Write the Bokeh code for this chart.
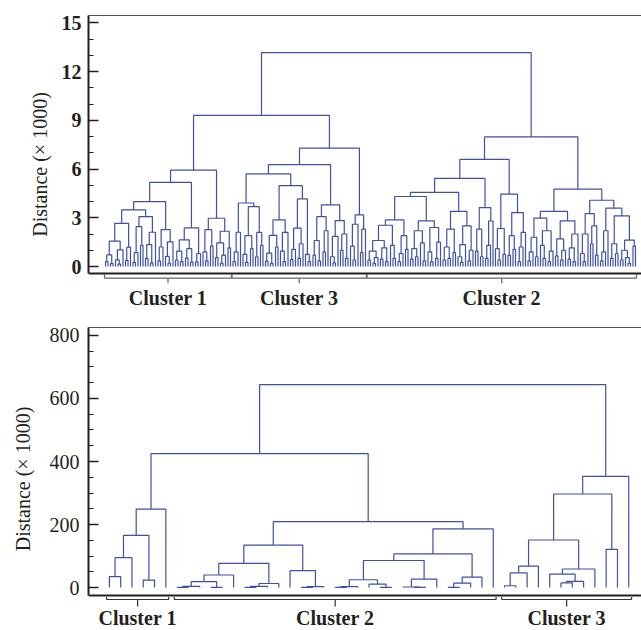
from bokeh.plotting import figure
from bokeh.models import Range1d, LinearAxis, FixedTicker, ColumnDataSource, Span
from bokeh.layouts import column
from bokeh.embed import file_html
from bokeh.resources import INLINE
from bokeh.core.properties import value

o = 0  # a leaf; internal node = (merge distance, left, right)

# ---------------- top dendrogram: distance (x 1000) ----------------
A111 = (2.66, (1.56, (0.72, (0.30, o, o), (0.18, o, o)), (1.02, (0.41, o, (0.15, o, o)), o)),
        (1.19, (0.38, o, o), o))
A112 = (3.07, (2.46, (0.85, (0.25, o, o), o), (1.30, o, o)),
        (2.11, (1.35, (0.50, o, o), (0.22, o, o)), o))
A12 = (2.27, (1.20, (0.35, o, o), o), (1.52, (0.62, o, (0.20, o, o)), o))
A2 = (2.38, (1.64, (0.95, (0.40, o, o), (0.30, o, o)), (1.10, (0.52, o, o), (0.27, o, o))),
      (0.80, (0.28, o, o), o))
B1 = (2.27, (0.90, o, (0.35, o, o)), (1.25, o, o))
B2 = (2.17, (1.45, (0.55, o, o), (0.70, (0.20, o, o), o)), (1.15, o, o))
top_cluster1 = (5.93, (5.18, (4.00, (3.48, A111, A112), A12), A2), (2.97, B1, B2))

D111 = (2.11, (0.90, (0.30, o, o), o), o)
D112 = (3.69, (1.90, (0.75, o, (0.25, o, o)), (1.10, o, o)), (2.10, (0.60, o, o), (1.30, o, o)))
D121 = (2.87, (1.92, (0.82, (0.33, o, o), (0.20, o, o)), (1.20, o, o)),
        (2.10, (0.95, o, (0.30, o, o)), o))
D122 = (4.16, (2.36, (1.05, (0.42, o, o), o), (1.40, (0.50, o, o), o)), (0.75, o, (0.30, o, o)))
D21 = (3.07, (1.60, (0.70, o, o), (0.35, o, o)), (2.20, (0.90, o, o), o))
D22 = (2.83, (1.85, (0.60, o, (0.22, o, o)), o), (2.00, (1.00, o, o), (0.50, o, o)))
E3 = (3.18, (2.60, (1.25, o, (0.40, o, o)), o), (2.30, (0.85, o, o), o))
top_cluster3 = (7.29, (6.27, (5.70, (3.91, D111, D112), (4.98, D121, D122)), (3.79, D21, D22)), E3)

N394 = (2.87, (2.54, (1.60, (0.95, (0.40, o, o), (0.55, (0.20, o, o), o)),
                     (1.15, (0.45, o, o), (0.30, o, o))), (1.30, o, (0.50, o, o))),
        (1.90, (0.80, (0.30, o, o), o), (1.05, o, o)))
N426 = (2.81, (2.20, (1.10, (0.45, o, o), (0.60, o, o)), (1.45, o, (0.35, o, o))),
        (2.40, (0.90, o, (0.28, o, o)), (1.50, (0.50, o, o), o)))
F112 = (3.39, (2.30, (1.20, (0.40, o, o), (0.50, o, o)), (0.85, o, o)),
        (2.50, (1.35, (0.60, o, (0.25, o, o)), o), (1.00, (0.35, o, o), o)))
F12 = (3.63, (2.30, (0.95, o, o), (0.60, o, o)), (2.80, (1.30, (0.50, o, o), o), o))
F2 = (4.45, (2.34, (1.10, o, (0.40, o, o)), (0.75, o, o)),
      (3.32, (1.90, (0.70, o, o), (1.05, o, o)), (2.10, (1.20, (0.30, o, o), o), o)))
G1 = (3.39, (2.98, (1.80, (0.90, (0.35, o, o), o), (0.60, o, o)),
                   (2.20, (1.30, o, (0.50, o, o)), (0.95, (0.30, o, o), o))),
      (2.81, (1.70, (0.65, o, o), (1.00, (0.40, o, o), o)),
             (2.00, (1.15, (0.45, o, o), (0.30, o, o)), o)))
G2 = (4.08, (3.26, (2.00, (0.80, o, (0.30, o, o)), o), (2.50, (1.40, o, o), (0.70, o, o))),
      (3.59, (2.20, (0.90, (0.35, o, o), o), o),
             (3.12, (1.40, (0.50, o, o), (0.80, o, o)),
                    (1.62, (1.00, (0.40, o, o), (0.55, o, (0.20, o, o))), (1.25, o, o)))))
top_cluster2 = (7.98, (6.59, (5.42, (4.56, (4.31, N394, N426), F112), F12), F2), (4.76, G1, G2))

top_root = (13.17, (9.30, top_cluster1, top_cluster3), top_cluster2)
top_cluster_names = ["Cluster 1", "Cluster 3", "Cluster 2"]
top_cluster_trees = [top_cluster1, top_cluster3, top_cluster2]
top_ticks = [0, 3, 6, 9, 12, 15]

# ---------------- bottom dendrogram: distance (x 1000) ----------------
bot_cluster1 = (249, (166, (95, (35, o, o), o), (24, o, o)), o)
bot_cluster2 = (209,
                (135, (77, (40, (19, (4, (1, o, o), o), (1, o, o)), o), (13, (4, (1, o, o), o), o)),
                      (54, o, (3, (1, o, o), o))),
                (186, (107, (86, (25, (3, (1, o, o), o), (11, o, (1, o, o))), (27, (2, o, (1, o, o)), o)),
                            (33, (14, (1, o, o), o), o)), o))
bot_cluster3 = (353, (297, (151, (68, (47, (6, o, o), o), o), (59, (43, o, (20, (15, o, o), o)), o)),
                      (121, o, o)), o)
bot_root = (644, (425, bot_cluster1, bot_cluster2), bot_cluster3)
bot_cluster_names = ["Cluster 1", "Cluster 2", "Cluster 3"]
bot_cluster_trees = [bot_cluster1, bot_cluster2, bot_cluster3]
bot_ticks = [0, 200, 400, 600, 800]

# ---------------- helpers ----------------
LINE = "#3f51a5"
INK = "#231f20"
FONT = "Liberation Serif"
W = 641


def count_leaves(n):
    return 1 if not isinstance(n, tuple) else count_leaves(n[1]) + count_leaves(n[2])


def dendro_paths(tree):
    xs, ys = [], []
    counter = [0]

    def walk(n):
        if not isinstance(n, tuple):
            x = counter[0]
            counter[0] += 1
            return x, 0.0
        h, l, r = n
        xl, hl = walk(l)
        xr, hr = walk(r)
        xs.append([xl, xl, xr, xr])
        ys.append([hl, h, h, hr])
        return (xl + xr) / 2.0, h

    walk(tree)
    return xs, ys


def cluster_spans(trees):
    spans, start = [], 0
    for t in trees:
        n = count_leaves(t)
        spans.append((start, start + n - 1))
        start += n
    return spans


def dendro_chart(tree, names, trees, x_lo, x_hi, y_lo, y_hi, axis_px, below_px, top_px, left_px,
                 ticks, minor, bold_ticks, label_standoff, axis_standoff,
                 pad, br_line, br_end, br_tick, br_text, br_color):
    upp = (y_hi - y_lo) / axis_px  # data units per pixel
    height = top_px + axis_px + below_px
    p = figure(width=W, height=height, x_range=Range1d(x_lo, x_hi),
               y_range=Range1d(y_lo - below_px * upp, y_hi), output_backend="svg",
               toolbar_location=None, x_axis_location=None, y_axis_location=None,
               min_border_left=left_px, min_border_right=0, min_border_top=top_px, min_border_bottom=0)
    p.grid.visible = False
    p.outline_line_color = None
    p.background_fill_color = "white"
    p.border_fill_color = "white"

    yax = LinearAxis(ticker=FixedTicker(ticks=ticks, minor_ticks=minor), axis_label="Distance (× 1000)",
                     bounds=(y_lo, y_hi))
    yax.major_tick_in = 10
    yax.major_tick_out = 0
    yax.minor_tick_in = 5
    yax.minor_tick_out = 0
    yax.major_tick_line_width = 1.5
    yax.major_tick_line_color = INK
    yax.minor_tick_line_color = INK
    yax.axis_line_width = 2
    yax.axis_line_color = INK
    yax.major_label_text_font = FONT
    yax.major_label_text_font_size = "20px"
    yax.major_label_text_font_style = "bold" if bold_ticks else "normal"
    yax.major_label_text_color = INK
    yax.major_label_standoff = label_standoff
    yax.axis_label_text_font = FONT
    yax.axis_label_text_font_size = "20px"
    yax.axis_label_text_font_style = "normal"
    yax.axis_label_text_color = INK
    yax.axis_label_standoff = axis_standoff
    p.add_layout(yax, "left")

    top_line = LinearAxis(ticker=FixedTicker(ticks=[]), axis_line_color="#555555", axis_line_width=1.2,
                          major_tick_in=0, major_tick_out=0, minor_tick_in=0, minor_tick_out=0,
                          major_label_standoff=0)
    p.add_layout(top_line, "above")
    p.add_layout(Span(location=y_lo, dimension="width", line_color=INK, line_width=2))

    xs, ys = dendro_paths(tree)
    p.multi_line(xs="xs", ys="ys", source=ColumnDataSource(dict(xs=xs, ys=ys)),
                 line_color=LINE, line_width=1.2)

    # cluster brackets below the axis (offsets in pixels below the axis line)
    yl = y_lo - br_line * upp
    ye = y_lo - br_end * upp
    yt = y_lo - br_tick * upp
    ytx = y_lo - br_text * upp
    bx, by, cx, cy, tx, ty = [], [], [], [], [], []
    for (a, b) in cluster_spans(trees):
        x0, x1 = a - pad, b + pad
        xc = (x0 + x1) / 2.0
        bx.append([x0, x0, x1, x1])
        by.append([ye, yl, yl, ye])
        cx.append([xc, xc])
        cy.append([yl, yt])
        tx.append(xc)
        ty.append(ytx)
    p.multi_line(xs=bx, ys=by, line_color=br_color, line_width=1.2)
    p.multi_line(xs=cx, ys=cy, line_color=br_color, line_width=1.2)
    p.text(x=tx, y=ty, text=names, text_font=value(FONT), text_font_style="bold",
           text_font_size="20px", text_align="center", text_baseline="middle", text_color=INK)
    return p


top_minor = [v for v in range(0, 16) if v % 3]
bot_minor = [v for v in range(0, 801, 50) if v % 200]

p1 = dendro_chart(top_root, top_cluster_names, top_cluster_trees,
                  -6.8, 214.4, -0.43, 15.45, 258, 40, 15, 88,
                  top_ticks, top_minor, True, 7, 8,
                  0.4, 4.7, 1.0, 9.7, 24.5, "#666666")
p2 = dendro_chart(bot_root, bot_cluster_names, bot_cluster_trees,
                  -1.85, 47.13, -25, 825, 268, 35, 14, 86,
                  bot_ticks, bot_minor, False, 9, 13,
                  0.25, 4.0, 1.5, 11, 22.5, "#333333")

layout = column(p1, p2, spacing=0)
open("out.html", "w").write(file_html(layout, INLINE))
